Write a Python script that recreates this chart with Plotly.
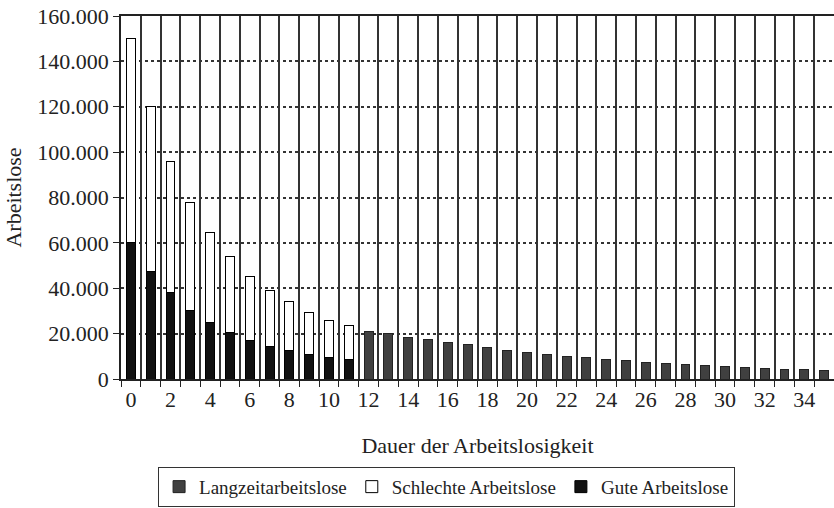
import plotly.graph_objects as go

x_short = list(range(0, 12))
gute = [60000, 47500, 38000, 30000, 25000, 20500, 17000, 14500, 12500, 11000, 9500, 8500]
schlechte = [90000, 72500, 58000, 48000, 39500, 33500, 28000, 24500, 21500, 18500, 16500, 15000]
x_long = list(range(12, 36))
langzeit = [21000, 20000, 18500, 17300, 16100, 15000, 13800, 12600, 11700, 11000, 10100, 9300,
            8600, 8000, 7400, 6800, 6400, 5900, 5500, 5200, 4700, 4300, 4000, 3600]
x_ticks = list(range(0, 36, 2))
y_ticks = list(range(0, 160001, 20000))

FONT = "Liberation Serif, Times New Roman, serif"
FS = 22

fig = go.Figure()
fig.add_trace(go.Bar(x=x_short, y=gute, name="Gute Arbeitslose", width=0.45,
                     marker=dict(color="#111111", line=dict(color="black", width=1))))
fig.add_trace(go.Bar(x=x_short, y=schlechte, name="Schlechte Arbeitslose", width=0.45,
                     marker=dict(color="white", line=dict(color="black", width=1))))
fig.add_trace(go.Bar(x=x_long, y=langzeit, name="Langzeitarbeitslose", width=0.45,
                     marker=dict(color="#404040", line=dict(color="#222222", width=1))))

fig.update_layout(
    barmode="stack",
    width=834, height=508,
    margin=dict(l=121, r=0, t=16, b=129, autoexpand=False),
    paper_bgcolor="white", plot_bgcolor="white",
    separators=",.",
    font=dict(family=FONT, size=FS, color="#222222"),
    showlegend=True,
    legend=dict(orientation="h", traceorder="reversed", x=0.052, xanchor="left",
                y=-0.352, yanchor="bottom", bordercolor="#333333", borderwidth=1,
                font=dict(size=19, family=FONT), itemwidth=30,
                tracegroupgap=0),
    xaxis=dict(
        range=[-0.5, 35.5], tickvals=x_ticks, ticks="", showgrid=False,
        showline=True, linecolor="#222222", linewidth=1.5, mirror=True,
        zeroline=False,
        minor=dict(tick0=-0.5, dtick=1, showgrid=True, gridcolor="#333333", gridwidth=1.5,
                   ticks="outside", ticklen=6, tickcolor="#222222"),
        title=dict(text="Dauer der Arbeitslosigkeit", standoff=26, font=dict(size=FS)),
        tickfont=dict(size=FS),
    ),
    yaxis=dict(
        range=[0, 160000], tickvals=y_ticks, tickformat=",d",
        showgrid=True, gridcolor="#333333", griddash="dot", gridwidth=1.5,
        showline=True, linecolor="#222222", linewidth=1.5,
        ticks="outside", ticklen=6, tickcolor="#222222", zeroline=False,
        title=dict(text="Arbeitslose", standoff=10, font=dict(size=FS)),
        tickfont=dict(size=FS),
    ),
)

fig.write_html("out.html", config={"displayModeBar": False},
               post_script="document.body.style.margin='0';")
